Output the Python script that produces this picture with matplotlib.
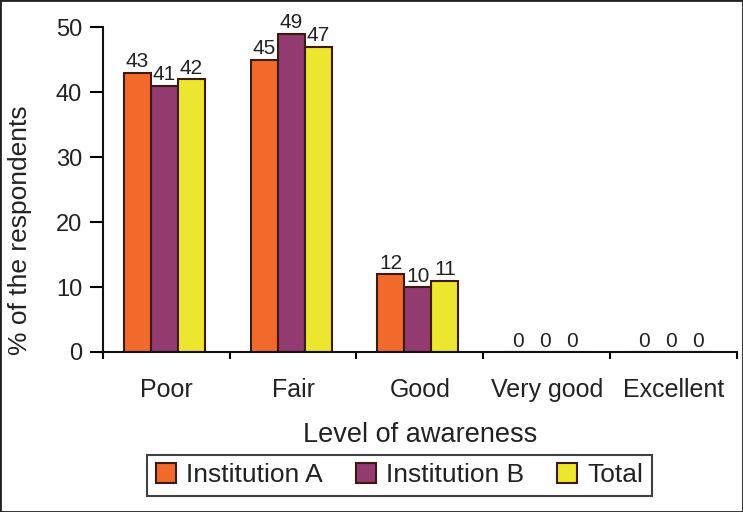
import matplotlib
matplotlib.use("Agg")
import matplotlib.pyplot as plt
import numpy as np

plt.rcParams["font.family"] = ["Liberation Sans", "DejaVu Sans"]

categories = ["Poor", "Fair", "Good", "Very good", "Excellent"]
series_names = ["Institution A", "Institution B", "Total"]
inst_a = [43, 45, 12, 0, 0]
inst_b = [41, 49, 10, 0, 0]
total = [42, 47, 11, 0, 0]
yticks = [0, 10, 20, 30, 40, 50]

colors = ["#F26A2B", "#933A70", "#ECE62E"]
edge = "#3b1a12"

fig = plt.figure(figsize=(7.43, 5.12), dpi=100)
ax = fig.add_axes([0.1386, 0.3125, 0.853, 0.6345])

x = np.arange(len(categories))
w = 0.213
for i, (vals, name, c) in enumerate(zip([inst_a, inst_b, total], series_names, colors)):
    pos = x + (i - 1) * w - 0.015
    ax.bar(pos, vals, width=w, color=c, edgecolor=edge, linewidth=1.5, label=name)
    for xp, v in zip(pos, vals):
        ax.text(xp, v + 0.2, str(v), ha="center", va="bottom", fontsize=15, color="#222222")

ax.set_xlim(-0.5, len(categories) - 0.5)
ax.set_ylim(0, 50)
ax.set_yticks(yticks)
ax.set_xticks(np.arange(len(categories) + 1) - 0.5)
ax.set_xticklabels([])
ax.set_xticks(x, minor=True)
ax.set_xticklabels(categories, minor=True)
ax.tick_params(axis="x", which="minor", length=0, pad=19, labelsize=18, labelcolor="#222222")
ax.tick_params(axis="x", which="major", length=5, width=1.5, direction="out")
ax.tick_params(axis="y", length=9.5, width=1.5, direction="out", labelsize=17, pad=5.5, labelcolor="#222222")

for s in ["top", "right"]:
    ax.spines[s].set_visible(False)
for s in ["left", "bottom"]:
    ax.spines[s].set_linewidth(1.5)
    ax.spines[s].set_color("#111111")

ax.set_ylabel("% of the respondents", fontsize=19, color="#222222")
ax.yaxis.set_label_coords(-0.112, 0.375)
ax.set_xlabel("Level of awareness", fontsize=19.5, color="#222222", labelpad=14)

leg = fig.legend(loc="center", bbox_to_anchor=(0.538, 0.072), ncol=3, fontsize=19,
                 frameon=True, fancybox=False, edgecolor="#111111", handlelength=0.75,
                 handleheight=0.75, handletextpad=0.4, columnspacing=1.25, borderpad=0.32)
leg.get_frame().set_linewidth(1.5)
for t in leg.get_texts():
    t.set_color("#222222")

fig.patches.append(plt.Rectangle((0, 0), 1, 1, transform=fig.transFigure, fill=False,
                                 edgecolor="#222222", linewidth=2))

fig.savefig("out.png", dpi=100)
